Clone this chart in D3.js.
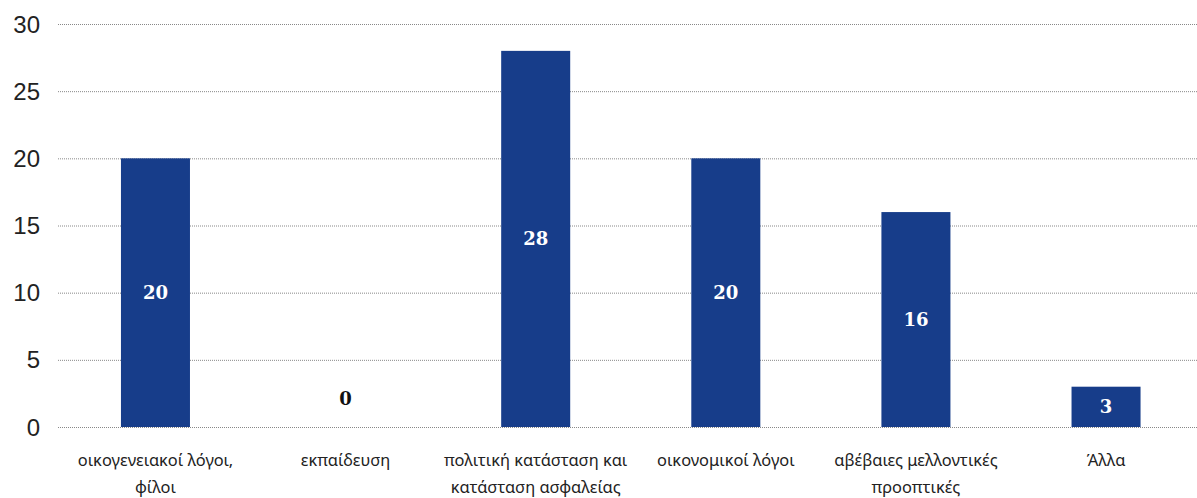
<!DOCTYPE html>
<html>
<head>
<meta charset="utf-8">
<script src="https://cdn.jsdelivr.net/npm/d3@7"></script>
<style>
  body { margin: 0; background: #fff; }
  .y-tick text { font-family: 'Liberation Sans', Arial, sans-serif; font-size: 24px; fill: #222; }
  .cat { font-family: 'Noto Sans', sans-serif; font-size: 16.4px; fill: #222; }
  .val { font-family: 'DejaVu Serif', serif; font-weight: bold; font-size: 18px; }
</style>
</head>
<body>
<div id="chart"></div>
<script>
var categories = [
  ['οικογενειακοί λόγοι,', 'φίλοι'],
  ['εκπαίδευση'],
  ['πολιτική κατάσταση και', 'κατάσταση ασφαλείας'],
  ['οικονομικοί λόγοι'],
  ['αβέβαιες μελλοντικές', 'προοπτικές'],
  ['Άλλα']
]
var values = [20, 0, 28, 20, 16, 3]
var yTicks = [0, 5, 10, 15, 20, 25, 30]

var width = 1197, height = 498
var margin = {left: 58, right: 0, top: 24, bottom: 71}

var svg = d3.select('#chart').append('svg')
  .attr('width', width).attr('height', height)

var x = d3.scaleBand()
  .domain(d3.range(categories.length))
  .range([margin.left + 2.5, width - margin.right + 4])
  .paddingInner(0.637).paddingOuter(0.318)

var y = d3.scaleLinear().domain([0, 30]).range([height - margin.bottom, margin.top])

// gridlines + tick labels
var ticks = svg.append('g').selectAll('g').data(yTicks).enter().append('g').attr('class', 'y-tick')
ticks.append('line')
  .attr('x1', margin.left).attr('x2', width)
  .attr('y1', function(d){ return y(d) + 0.5 }).attr('y2', function(d){ return y(d) + 0.5 })
  .attr('stroke', '#888').attr('stroke-width', 1).attr('stroke-dasharray', '1,1')
ticks.append('text')
  .attr('x', 40).attr('y', function(d){ return y(d) })
  .attr('dy', '0.36em').attr('text-anchor', 'end')
  .text(function(d){ return d })

// bars
svg.append('g').selectAll('rect').data(values).enter().append('rect')
  .attr('x', function(d, i){ return x(i) })
  .attr('width', x.bandwidth())
  .attr('y', function(d){ return y(d) })
  .attr('height', function(d){ return y(0) - y(d) })
  .attr('fill', '#173d8a')

// value labels
svg.append('g').selectAll('text').data(values).enter().append('text')
  .attr('class', 'val')
  .attr('x', function(d, i){ return x(i) + x.bandwidth() / 2 })
  .attr('y', function(d){ return d > 0 ? (y(d) + y(0)) / 2 : y(0) - 28 })
  .attr('dy', '0.36em')
  .attr('text-anchor', 'middle')
  .attr('fill', function(d){ return d > 0 ? '#fff' : '#111' })
  .text(function(d){ return d })

// category labels
var cats = svg.append('g').selectAll('text').data(categories).enter().append('text')
  .attr('class', 'cat')
  .attr('x', function(d, i){ return x(i) + x.bandwidth() / 2 })
  .attr('y', y(0) + 39)
  .attr('text-anchor', 'middle')
cats.selectAll('tspan').data(function(d){ return d }).enter().append('tspan')
  .attr('x', function(){ return d3.select(this.parentNode).attr('x') })
  .attr('dy', function(d, i){ return i ? 27 : 0 })
  .text(function(d){ return d })
</script>
</body>
</html>
